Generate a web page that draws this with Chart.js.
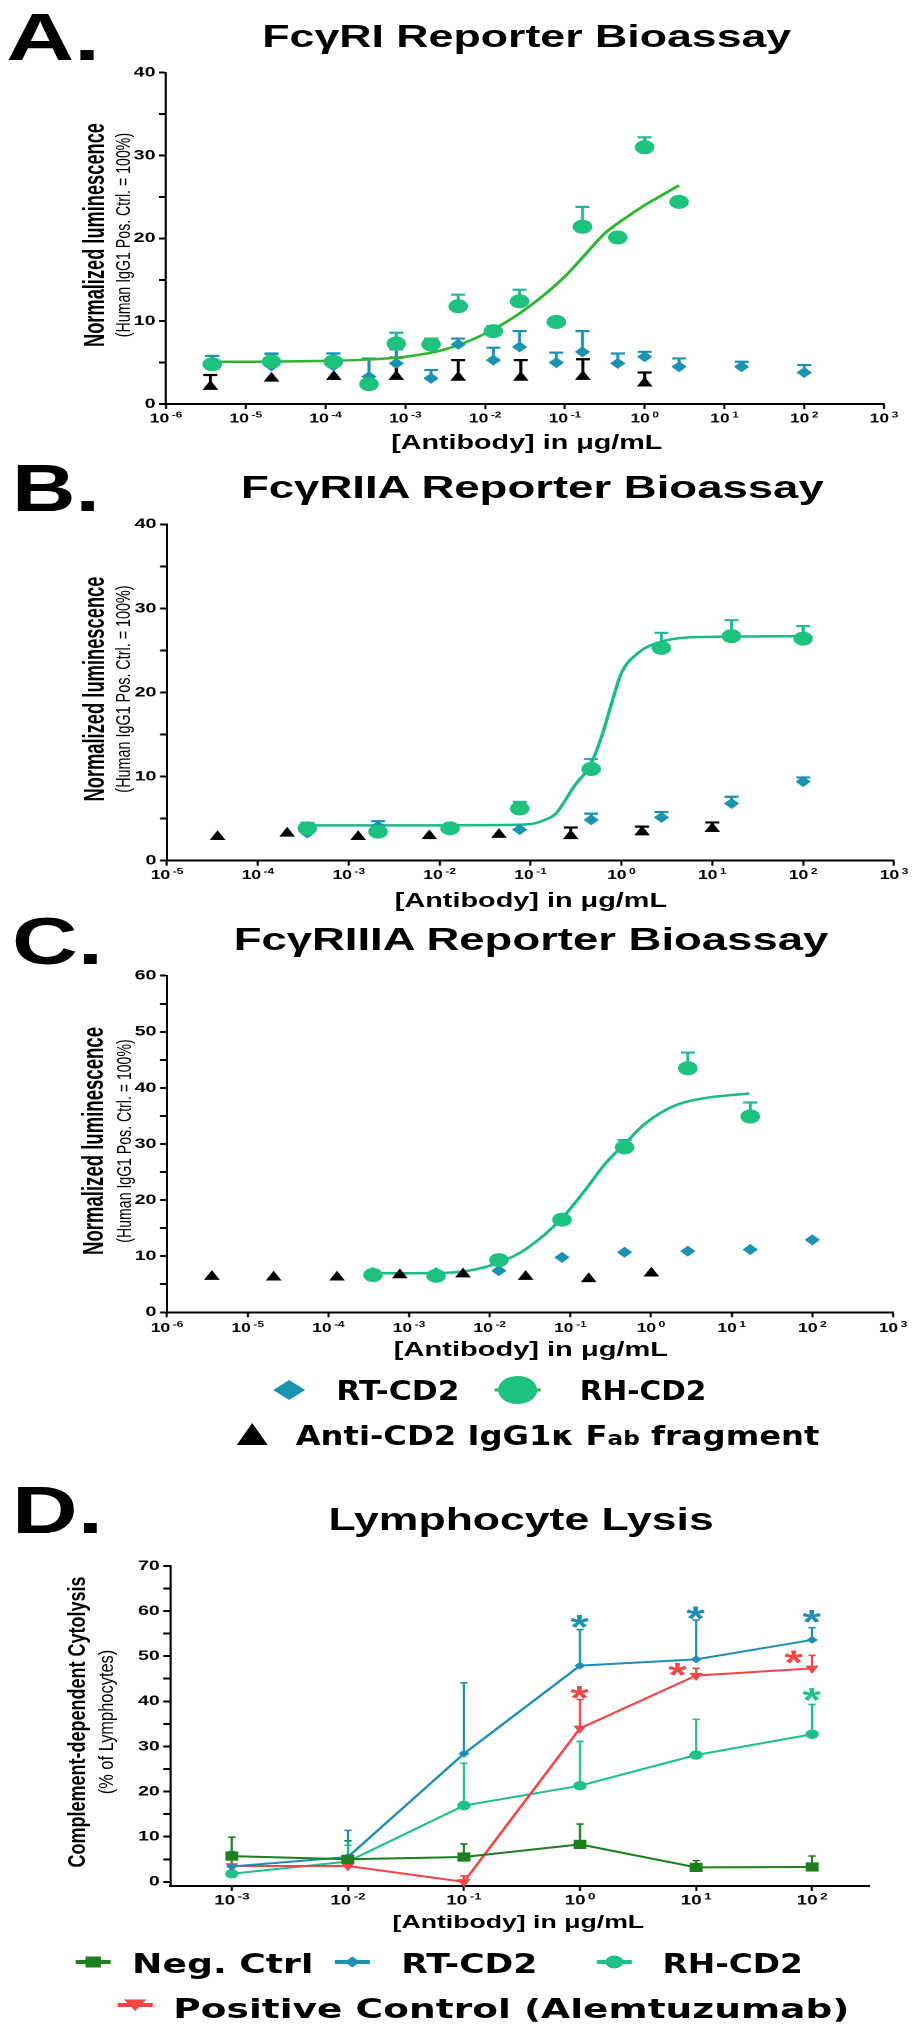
<!DOCTYPE html>
<html>
<head>
<meta charset="utf-8">
<script src="https://cdn.jsdelivr.net/npm/chart.js@4.4.1/dist/chart.umd.min.js"></script>
<style>
html, body { margin: 0; padding: 0; background: #fff; overflow: hidden; }
#page { position: absolute; left: 0; top: 0; height: 2036px; transform-origin: 0 0; }
#page canvas { position: absolute; left: 0; }
#page svg { position: absolute; overflow: visible; }
.txt { position: absolute; white-space: nowrap; line-height: 1; color: #000; }
</style>
</head>
<body>
<div id="page"></div>
<script>
// ---- panel A : FcγRI ----
var aConc = [3.8e-6, 2.1e-5, 1.25e-4, 3.5e-4, 7.7e-4, 2.1e-3, 4.6e-3, 1.27e-2, 2.7e-2, 7.8e-2, 0.166, 0.46, 1.0, 2.7];
var aRH = [4.8, 5.1, 5.1, 2.4, 7.3, 7.2, 11.8, 8.8, 12.4, 9.9, 21.4, 20.1, 31.0, 24.4];
var aRHerr = [5.8, 6.0, 6.1, null, 8.6, 7.9, 13.2, 9.4, 13.8, null, 23.8, null, 32.2, null];
var aRTconc = [3.8e-6, 2.1e-5, 1.25e-4, 3.5e-4, 7.7e-4, 2.1e-3, 4.6e-3, 1.27e-2, 2.7e-2, 7.8e-2, 0.166, 0.46, 1.0, 2.7, 16.4, 100];
var aRT = [5.0, 4.6, 4.6, 3.3, 4.9, 3.1, 7.2, 5.3, 6.9, 5.0, 6.3, 4.9, 5.7, 4.5, 4.5, 3.8];
var aRTerr = [5.8, 6.1, 6.1, 5.5, 6.6, 4.1, 7.9, 6.8, 8.8, 6.2, 8.8, 6.1, 6.3, 5.5, 5.1, 4.7];
var aFabConc = [3.6e-6, 2.1e-5, 1.27e-4, 7.7e-4, 4.6e-3, 2.8e-2, 0.168, 1.0];
var aFab = [2.1, 3.1, 3.3, 3.3, 3.2, 3.2, 3.3, 2.5];
var aFabErr = [3.5, null, null, 5.6, 5.3, 5.3, 5.4, 3.8];
var aFitConc = [3.8e-6, 1e-5, 3.16e-5, 1e-4, 3.16e-4, 1e-3, 3.16e-3, 1e-2, 3.16e-2, 0.1, 0.178, 0.316, 0.562, 1, 1.78, 2.7];
var aFit = [5.1, 5.1, 5.15, 5.2, 5.35, 5.7, 6.6, 8.5, 11.4, 15.4, 18.0, 20.6, 22.4, 24.0, 25.4, 26.4];

// ---- panel B : FcγRIIA ----
var bConc = [3.5e-4, 2.1e-3, 1.3e-2, 7.6e-2, 0.466, 2.76, 16.3, 100];
var bRH = [3.85, 3.45, 3.85, 6.2, 10.9, 25.3, 26.7, 26.4];
var bRHerr = [4.5, null, null, 7.0, 12.1, 27.1, 28.6, 27.9];
var bRT = [3.3, 4.1, 3.65, 3.7, 4.85, 5.15, 6.8, 9.4];
var bRTerr = [4.3, 4.7, null, null, 5.6, 5.8, 7.6, 9.9];
var bFabConc = [3.6e-5, 2.1e-4, 1.27e-3, 7.7e-3, 4.5e-2, 0.277, 1.69, 10];
var bFab = [2.85, 3.25, 2.85, 2.95, 3.1, 2.95, 3.4, 3.8];
var bFabErr = [null, null, null, null, null, 3.95, 4.05, 4.55];
var bFitConc = [3.5e-4, 1e-3, 1e-2, 0.05, 0.1, 0.14, 0.19, 0.3, 0.466, 0.625, 0.78, 1.0, 1.53, 2.76, 7.8, 100];
var bFit = [4.2, 4.2, 4.2, 4.25, 4.35, 4.8, 5.6, 8.8, 11.6, 15.2, 18.7, 22.3, 24.7, 26.05, 26.6, 26.7];

// ---- panel C : FcγRIIIA ----
var cConc = [3.57e-4, 2.17e-3, 1.3e-2, 7.87e-2, 0.47, 2.86, 17];
var cRH = [6.65, 6.5, 9.3, 16.5, 29.4, 43.5, 34.9];
var cRHerr = [null, null, null, null, 30.7, 46.3, 37.4];
var cRTconc = [3.57e-4, 2.17e-3, 1.3e-2, 7.87e-2, 0.47, 2.86, 17, 100];
var cRT = [7.1, 7.05, 7.4, 9.8, 10.7, 10.9, 11.2, 12.9];
var cFabConc = [3.6e-6, 2.1e-5, 1.28e-4, 7.7e-4, 4.67e-3, 2.79e-2, 0.169, 1.01];
var cFab = [6.35, 6.25, 6.25, 6.65, 6.8, 6.35, 5.95, 6.95];
var cFitConc = [3.57e-4, 2.2e-3, 5.4e-3, 1.3e-2, 2.9e-2, 7.9e-2, 0.153, 0.275, 0.47, 0.81, 1.86, 4.3, 16.5];
var cFit = [6.95, 7.0, 7.4, 8.85, 11.4, 16.8, 21.8, 26.6, 30.0, 33.4, 36.7, 38.1, 39.0];

// ---- panel D : lymphocyte lysis ----
var dConc = [1e-3, 1e-2, 1e-1, 1, 10, 100];
var dNeg = [5.7, 5.0, 5.5, 8.3, 3.2, 3.3];
var dNegErr = [9.9, 9.1, 8.4, 12.8, 4.7, 5.7];
var dRT = [3.4, 5.5, 28.4, 47.9, 49.3, 53.6];
var dRTerr = [6.7, 11.4, 44.1, 55.9, 58.0, 56.3];
var dRH = [1.8, 4.5, 16.9, 21.3, 28.1, 32.7];
var dRHerr = [null, 8.1, 26.3, 31.1, 36.0, 39.3];
var dPos = [3.5, 3.5, 0.0, 34.0, 45.7, 47.3];
var dPosErr = [6.0, null, 1.3, 40.4, 47.3, 50.2];
var dStarRTx = [1, 10, 100], dStarRTy = [57.6, 59.5, 58.7];
var dStarPosX = [1, 7, 70], dStarPosY = [41.8, 46.9, 49.7];
var dStarRHx = [100], dStarRHy = [41.4];

// axis ticks (x: powers of ten)
var aExps = [-6, -5, -4, -3, -2, -1, 0, 1, 2, 3];
var bExps = [-5, -4, -3, -2, -1, 0, 1, 2, 3];
var cExps = [-6, -5, -4, -3, -2, -1, 0, 1, 2, 3];
var dExps = [-3, -2, -1, 0, 1, 2];
var y40Ticks = [0, 5, 10, 15, 20, 25, 30, 35, 40];
var y60Ticks = [0, 5, 10, 15, 20, 25, 30, 35, 40, 45, 50, 55, 60];
var y70Ticks = [0, 5, 10, 15, 20, 25, 30, 35, 40, 45, 50, 55, 60, 65, 70];

// the whole figure is horizontally stretched, so draw narrow and scale
var W = 656;
var K = 919 / W;
var FONT = "'Liberation Sans', Arial, sans-serif";
var VFONT = "'DejaVu Sans', Verdana, sans-serif";
var RT_COL = '#1a93b3', RH_COL = '#1cc27e', RH_ERR = '#22b79c';
var FIT_A = '#2fb52f', FIT_BC = '#1cb98a';
var D_NEG = '#1d7f1d', D_RT = '#1d8fb5', D_RH = '#1fc189', D_POS = '#f04646';

var page = document.getElementById('page');
page.style.width = W + 'px';
page.style.transform = 'scaleX(' + K + ')';

function addText(html, x, y, size, width, opt) {
    opt = opt || {};
    var el = document.createElement('div');
    el.className = 'txt';
    el.innerHTML = html;
    el.style.fontFamily = opt.family || FONT;
    el.style.fontSize = size + 'px';
    el.style.fontWeight = opt.weight || 'bold';
    page.appendChild(el);
    var nat = el.offsetWidth;
    var s = (opt.rotate ? width : width / K) / nat;
    el.style.left = (x / K) + 'px';
    el.style.top = y + 'px';
    el.style.transform = 'translate(-50%,-50%)' + (opt.rotate ? ' rotate(-90deg)' : '') + ' scaleX(' + s.toFixed(4) + ')';
}

function addSvg(x, y, w, h, inner) {
    var svg = document.createElementNS('http://www.w3.org/2000/svg', 'svg');
    svg.setAttribute('width', w);
    svg.setAttribute('height', h);
    svg.setAttribute('viewBox', '0 0 ' + w + ' ' + h);
    svg.style.left = (x / K - w / 2) + 'px';
    svg.style.top = (y - h / 2) + 'px';
    svg.innerHTML = inner;
    page.appendChild(svg);
}

function pts(xs, ys) {
    return xs.map(function (x, i) { return { x: x, y: ys[i] }; });
}

function markers(xs, ys, err, color, style, r, opt) {
    opt = opt || {};
    return {
        data: pts(xs, ys),
        errTop: err,
        errColor: opt.errColor || color,
        errCap: opt.cap || 5,
        errWidth: opt.errWidth || 2.2,
        pointStyle: style,
        pointRadius: r,
        pointRotation: opt.rot || 0,
        pointBackgroundColor: color,
        pointBorderColor: color,
        pointBorderWidth: 0,
        showLine: false,
        clip: false
    };
}

function fitLine(xs, ys, color) {
    return {
        data: pts(xs, ys),
        borderColor: color,
        borderWidth: 2.5,
        pointRadius: 0,
        showLine: true,
        cubicInterpolationMode: 'monotone',
        clip: false
    };
}

function series(xs, ys, err, color, style, r, rot) {
    var ds = markers(xs, ys, err, color, style, r, { cap: 2.6, errWidth: 1.6, rot: rot });
    ds.showLine = true;
    ds.borderColor = color;
    ds.borderWidth = 2;
    ds.tension = 0;
    return ds;
}

var errorBars = {
    id: 'errorBars',
    beforeDatasetsDraw: function (chart) {
        var ctx = chart.ctx, ys = chart.scales.y;
        chart.data.datasets.forEach(function (ds, i) {
            if (!ds.errTop) return;
            var meta = chart.getDatasetMeta(i);
            ctx.save();
            ctx.strokeStyle = ds.errColor;
            ctx.lineWidth = ds.errWidth;
            meta.data.forEach(function (pt, j) {
                var v = ds.errTop[j];
                if (v == null) return;
                var yt = ys.getPixelForValue(v);
                ctx.beginPath();
                ctx.moveTo(pt.x, pt.y);
                ctx.lineTo(pt.x, yt);
                ctx.moveTo(pt.x - ds.errCap, yt);
                ctx.lineTo(pt.x + ds.errCap, yt);
                ctx.stroke();
            });
            ctx.restore();
        });
    }
};

// "10" with a raised exponent under each decade tick
function expTicks(size, sup, dy) {
    return {
        id: 'expTicks',
        afterDraw: function (chart) {
            var sc = chart.scales.x, ctx = chart.ctx;
            var base = sc.top + dy + size * 0.358;
            ctx.save();
            ctx.fillStyle = '#000';
            ctx.textAlign = 'left';
            ctx.textBaseline = 'alphabetic';
            sc.ticks.forEach(function (t) {
                var e = Math.round(Math.log10(t.value));
                var es = (e < 0 ? '-' : '') + Math.abs(e);
                ctx.font = 'bold ' + size + 'px ' + FONT;
                var w1 = ctx.measureText('10').width;
                ctx.font = 'bold ' + sup + 'px ' + FONT;
                var w2 = ctx.measureText(es).width;
                var x0 = sc.getPixelForValue(t.value) - (w1 + 1.8 + w2) / 2;
                ctx.font = 'bold ' + size + 'px ' + FONT;
                ctx.fillText('10', x0, base);
                ctx.font = 'bold ' + sup + 'px ' + FONT;
                ctx.fillText(es, x0 + w1 + 1.8, base - size * 0.4);
            });
            ctx.restore();
        }
    };
}

function stars(sets, size) {
    return {
        id: 'stars',
        afterDatasetsDraw: function (chart) {
            var ctx = chart.ctx;
            ctx.save();
            ctx.font = 'bold ' + size + 'px ' + FONT;
            ctx.textAlign = 'left';
            ctx.textBaseline = 'alphabetic';
            var m = ctx.measureText('*');
            sets.forEach(function (s) {
                ctx.fillStyle = s.color;
                s.x.forEach(function (xv, i) {
                    var px = chart.scales.x.getPixelForValue(xv);
                    var py = chart.scales.y.getPixelForValue(s.y[i]);
                    ctx.fillText('*', px + (m.actualBoundingBoxLeft - m.actualBoundingBoxRight) / 2,
                        py + (m.actualBoundingBoxAscent - m.actualBoundingBoxDescent) / 2);
                });
            });
            ctx.restore();
        }
    };
}

function buildChart(g, datasets, xr, yr, plugins) {
    var cv = document.createElement('canvas');
    cv.width = W;
    cv.height = g.height;
    cv.style.top = g.top + 'px';
    page.appendChild(cv);
    return new Chart(cv.getContext('2d'), {
        type: 'scatter',
        data: { datasets: datasets },
        options: {
            responsive: false,
            animation: false,
            devicePixelRatio: 2,
            layout: { padding: { left: 0, right: (919 - g.right) / K, top: g.areaTop - g.top, bottom: 0 } },
            plugins: { legend: { display: false }, tooltip: { enabled: false } },
            scales: {
                x: {
                    type: 'logarithmic',
                    bounds: 'data',
                    min: Math.pow(10, xr.min),
                    max: Math.pow(10, xr.max),
                    afterBuildTicks: function (s) { s.ticks = xr.exps.map(function (e) { return { value: Math.pow(10, e) }; }); },
                    afterFit: function (s) { s.height = g.top + g.height - g.areaBottom; },
                    ticks: { autoSkip: false, callback: function () { return ''; } },
                    grid: { drawOnChartArea: false, drawTicks: true, tickLength: 5, tickWidth: 1.5, tickColor: '#000' },
                    border: { display: true, color: '#000', width: 2 }
                },
                y: {
                    type: 'linear',
                    bounds: 'data',
                    min: yr.min,
                    max: yr.max,
                    afterBuildTicks: function (s) { s.ticks = yr.ticks.map(function (v) { return { value: v }; }); },
                    afterFit: function (s) { s.width = g.left / K; },
                    ticks: {
                        autoSkip: false, padding: 2.5, color: '#000',
                        font: { family: FONT, size: 14, weight: 'bold' },
                        callback: function (v) { return v % 10 === 0 ? String(v) : ''; }
                    },
                    grid: { drawOnChartArea: false, drawTicks: true, tickLength: 5, tickWidth: 2, tickColor: '#000' },
                    border: { display: true, color: '#000', width: 1.5 }
                }
            }
        },
        plugins: plugins
    });
}

// ---- charts ----
buildChart({ top: 0, height: 432, left: 166, right: 884, areaTop: 72.7, areaBottom: 404 }, [
    markers(aConc, aRH, aRHerr, RH_COL, 'circle', 7, { errColor: RH_ERR }),
    markers(aRTconc, aRT, aRTerr, RT_COL, 'rectRot', 5.5),
    markers(aFabConc, aFab, aFabErr, '#000', 'triangle', 6.5),
    fitLine(aFitConc, aFit, FIT_A)
], { min: -6, max: 3, exps: aExps }, { min: 0, max: 40, ticks: y40Ticks }, [errorBars, expTicks(12.5, 8.5, 14)]);

buildChart({ top: 480, height: 408, left: 167, right: 894, areaTop: 524.3, areaBottom: 860.7 }, [
    markers(bConc, bRH, bRHerr, RH_COL, 'circle', 7, { errColor: RH_ERR }),
    markers(bConc, bRT, bRTerr, RT_COL, 'rectRot', 5.5),
    markers(bFabConc, bFab, bFabErr, '#000', 'triangle', 6.5),
    fitLine(bFitConc, bFit, FIT_BC)
], { min: -5, max: 3, exps: bExps }, { min: 0, max: 40, ticks: y40Ticks }, [errorBars, expTicks(12.5, 8.5, 14)]);

buildChart({ top: 940, height: 400, left: 167, right: 893, areaTop: 975.7, areaBottom: 1312.3 }, [
    markers(cConc, cRH, cRHerr, RH_COL, 'circle', 7, { errColor: RH_ERR }),
    markers(cRTconc, cRT, null, RT_COL, 'rectRot', 5.5),
    markers(cFabConc, cFab, null, '#000', 'triangle', 6.5),
    fitLine(cFitConc, cFit, FIT_BC)
], { min: -6, max: 3, exps: cExps }, { min: 0, max: 60, ticks: y60Ticks }, [errorBars, expTicks(12.5, 8.5, 15)]);

buildChart({ top: 1540, height: 372, left: 170.3, right: 869, areaTop: 1565.9, areaBottom: 1885.9 }, [
    series(dConc, dNeg, dNegErr, D_NEG, 'rect', 6.5),
    series(dConc, dRT, dRTerr, D_RT, 'rectRot', 4),
    series(dConc, dPos, dPosErr, D_POS, 'triangle', 5.5, 180),
    series(dConc, dRH, dRHerr, D_RH, 'circle', 4.8)
], { min: -3.53, max: 2.49, exps: dExps }, { min: -0.9, max: 70, ticks: y70Ticks }, [
    errorBars, expTicks(13.5, 9.5, 14),
    stars([
        { x: dStarRTx, y: dStarRTy, color: D_RT },
        { x: dStarPosX, y: dStarPosY, color: D_POS },
        { x: dStarRHx, y: dStarRHy, color: D_RH }
    ], 34)
]);

// ---- panel letters and titles ----
addText('A.', 53, 35.8, 67, 94);
addText('B.', 55.6, 486.5, 67, 88);
addText('C.', 57, 940, 67, 91);
addText('D.', 57, 1508.7, 67, 91);
addText('Fc\u03b3RI Reporter Bioassay', 526.5, 35.8, 31, 529);
addText('Fc\u03b3RIIA Reporter Bioassay', 532.5, 486.5, 31, 583);
addText('Fc\u03b3RIIIA Reporter Bioassay', 531, 939, 31, 594);
addText('Lymphocyte Lysis', 520.5, 1518.7, 31, 385);

// ---- axis titles ----
addText('[Antibody] in \u03bcg/mL', 526.5, 442.5, 19.5, 271);
addText('[Antibody] in \u03bcg/mL', 531, 900.5, 19.5, 272);
addText('[Antibody] in \u03bcg/mL', 530.4, 1350, 19.5, 274);
addText('[Antibody] in \u03bcg/mL', 518, 1922, 18.5, 252);

addText('Normalized luminescence', 94, 235, 21, 224, { rotate: true });
addText('(Human IgG1 Pos. Ctrl. = 100%)', 122, 235, 15, 204, { rotate: true, weight: 'normal' });
addText('Normalized luminescence', 93.7, 689.2, 21, 225, { rotate: true });
addText('(Human IgG1 Pos. Ctrl. = 100%)', 122, 689.2, 15, 207, { rotate: true, weight: 'normal' });
addText('Normalized luminescence', 92, 1141, 21, 228, { rotate: true });
addText('(Human IgG1 Pos. Ctrl. = 100%)', 123, 1141, 15, 203, { rotate: true, weight: 'normal' });
addText('Complement-dependent Cytolysis', 77.6, 1721.6, 17, 291, { rotate: true });
addText('(% of Lymphocytes)', 106.8, 1721.6, 14.5, 145, { rotate: true, weight: 'normal' });

// ---- legend for A-C ----
var dw = 32 / K;
addSvg(289, 1390, dw, 20, '<polygon points="0,10 ' + dw / 2 + ',0 ' + dw + ',10 ' + dw / 2 + ',20" fill="' + RT_COL + '"/>');
addSvg(517.5, 1390, 33, 28, '<line x1="0" y1="14" x2="33" y2="14" stroke="' + FIT_A + '" stroke-width="3"/><circle cx="16.5" cy="14" r="14" fill="' + RH_COL + '"/>');
var tw = 31 / K;
addSvg(252.5, 1434, tw, 22, '<polygon points="' + tw / 2 + ',0 ' + tw + ',22 0,22" fill="#000"/>');
addText('RT-CD2', 398.5, 1390, 27, 123, { family: VFONT });
addText('RH-CD2', 642.5, 1390, 27, 127, { family: VFONT });
addText('Anti-CD2 IgG1\u03ba F<span style="font-size:72%">ab</span> fragment', 558, 1435, 27, 524, { family: VFONT });

// ---- legend for D ----
function legendLine(color) {
    return '<line x1="0" y1="7" x2="25" y2="7" stroke="' + color + '" stroke-width="4"/>';
}
addSvg(93.5, 1962, 25, 14, legendLine(D_NEG) + '<rect x="7" y="1.5" width="11" height="11" fill="' + D_NEG + '"/>');
addSvg(353, 1962, 25, 14, legendLine(D_RT) + '<polygon points="7,7 12.5,1.5 18,7 12.5,12.5" fill="' + D_RT + '"/>');
addSvg(614, 1962, 25, 14, legendLine(D_RH) + '<circle cx="12.5" cy="7" r="6.5" fill="' + D_RH + '"/>');
addSvg(135, 2005, 25, 14, legendLine(D_POS) + '<polygon points="4.5,1.5 20.5,1.5 12.5,13" fill="' + D_POS + '"/>');
addText('Neg. Ctrl', 222.5, 1963, 27, 181, { family: VFONT });
addText('RT-CD2', 469, 1963, 27, 136, { family: VFONT });
addText('RH-CD2', 732.5, 1963, 27, 141, { family: VFONT });
addText('Positive Control (Alemtuzumab)', 512, 2008, 27, 676, { family: VFONT });
</script>
</body>
</html>
